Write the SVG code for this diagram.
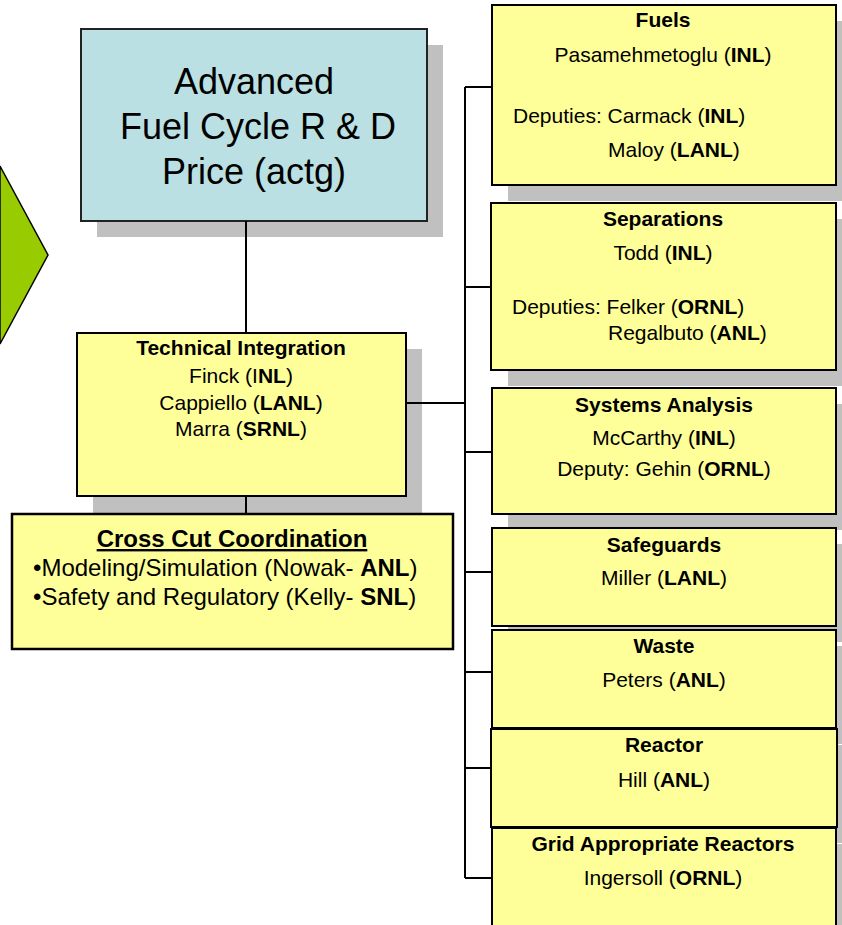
<svg xmlns="http://www.w3.org/2000/svg" width="842" height="925" viewBox="0 0 842 925">
<style>
text{font-family:"Liberation Sans",Arial,sans-serif;fill:#000}
.sh{fill:#C0C0C0}
.yb{fill:#FFFF99;stroke:#000;stroke-width:2}
.bb{fill:#BAE0E3;stroke:#222;stroke-width:2}
.t{font-size:21px;text-anchor:middle}
.s{font-size:21px}
.b{font-weight:bold}
.ttl{font-size:21px;font-weight:bold;text-anchor:middle}
.con{fill:none;stroke:#000;stroke-width:2}
</style>
<rect width="842" height="925" fill="#fff"/>
<polygon id="arrow" points="0,166 48,255 0,344" fill="#99CC00" stroke="#000" stroke-width="1.5"/>
<g id="top">
<rect class="sh" x="97" y="45" width="346" height="192"/>
<rect class="bb" x="81" y="29" width="346" height="192"/>
<text x="254" y="94" style="font-size:36px;text-anchor:middle">Advanced</text>
<text x="258" y="139" style="font-size:36px;text-anchor:middle">Fuel Cycle R &amp; D</text>
<text x="254" y="184" style="font-size:36px;text-anchor:middle">Price (actg)</text>
</g>
<g id="ti">
<rect class="sh" x="93" y="349" width="329" height="164"/>
<rect class="yb" x="77" y="333" width="329" height="163"/>
<text class="ttl" x="241" y="355">Technical Integration</text>
<text class="t" x="241" y="383">Finck (I<tspan class="b">NL</tspan>)</text>
<text class="t" x="241" y="410">Cappiello (<tspan class="b">LANL</tspan>)</text>
<text class="t" x="241" y="436">Marra (<tspan class="b">SRNL</tspan>)</text>
</g>
<g id="ccc">
<rect class="yb" x="12" y="514" width="441" height="135" style="stroke-width:2.5"/>
<text x="232" y="547" style="font-size:24px;font-weight:bold;text-anchor:middle;text-decoration:underline">Cross Cut Coordination</text>
<text x="33" y="576" style="font-size:24px">•Modeling/Simulation (Nowak- <tspan class="b">ANL</tspan>)</text>
<text x="33" y="605" style="font-size:24px">•Safety and Regulatory (Kelly- <tspan class="b">SNL</tspan>)</text>
</g>
<g id="fuels">
<rect class="sh" x="508" y="21" width="344" height="180"/>
<rect class="yb" x="492" y="5" width="344" height="180"/>
<text class="ttl" x="663" y="27">Fuels</text>
<text class="t" x="663" y="62">Pasamehmetoglu (<tspan class="b">INL</tspan>)</text>
<text class="s" x="513" y="123">Deputies: Carmack (<tspan class="b">INL</tspan>)</text>
<text class="s" x="608" y="157">Maloy (<tspan class="b">LANL</tspan>)</text>
</g>
<g id="separations">
<rect class="sh" x="508" y="219" width="344" height="167"/>
<rect class="yb" x="491" y="203" width="345" height="167"/>
<text class="ttl" x="663" y="226">Separations</text>
<text class="t" x="663" y="260">Todd (<tspan class="b">INL</tspan>)</text>
<text class="s" x="512" y="314">Deputies: Felker (<tspan class="b">ORNL</tspan>)</text>
<text class="s" x="608" y="340">Regalbuto (<tspan class="b">ANL</tspan>)</text>
</g>
<g id="systems">
<rect class="sh" x="508" y="404" width="344" height="126"/>
<rect class="yb" x="492" y="388" width="344" height="126"/>
<text class="ttl" x="664" y="412">Systems Analysis</text>
<text class="t" x="664" y="445">McCarthy (<tspan class="b">INL</tspan>)</text>
<text class="t" x="664" y="476">Deputy: Gehin (<tspan class="b">ORNL</tspan>)</text>
</g>
<g id="safeguards">
<rect class="sh" x="508" y="544" width="344" height="98"/>
<rect class="yb" x="492" y="528" width="344" height="98"/>
<text class="ttl" x="664" y="552">Safeguards</text>
<text class="t" x="664" y="585">Miller (<tspan class="b">LANL</tspan>)</text>
</g>
<g id="waste">
<rect class="sh" x="508" y="646" width="344" height="98"/>
<rect class="yb" x="492" y="630" width="344" height="98"/>
<text class="ttl" x="664" y="653">Waste</text>
<text class="t" x="664" y="687">Peters (<tspan class="b">ANL</tspan>)</text>
</g>
<g id="reactor">
<rect class="sh" x="507" y="745" width="346" height="98"/>
<rect class="yb" x="491" y="729" width="346" height="98"/>
<text class="ttl" x="664" y="752">Reactor</text>
<text class="t" x="664" y="787">Hill (<tspan class="b">ANL</tspan>)</text>
</g>
<g id="grid">
<rect class="sh" x="508" y="844" width="344" height="100"/>
<rect class="yb" x="492" y="828" width="344" height="110"/>
<text class="ttl" x="663" y="851">Grid Appropriate Reactors</text>
<text class="t" x="663" y="885">Ingersoll (<tspan class="b">ORNL</tspan>)</text>
</g>
<g id="connectors">
<path class="con" d="M246,221V333M246,497V513M407,403H465M465,87V878M465,87H491M465,287H490M465,452H491M465,572H491M465,672H491M465,768H490M465,878H491"/>
</g>
</svg>
